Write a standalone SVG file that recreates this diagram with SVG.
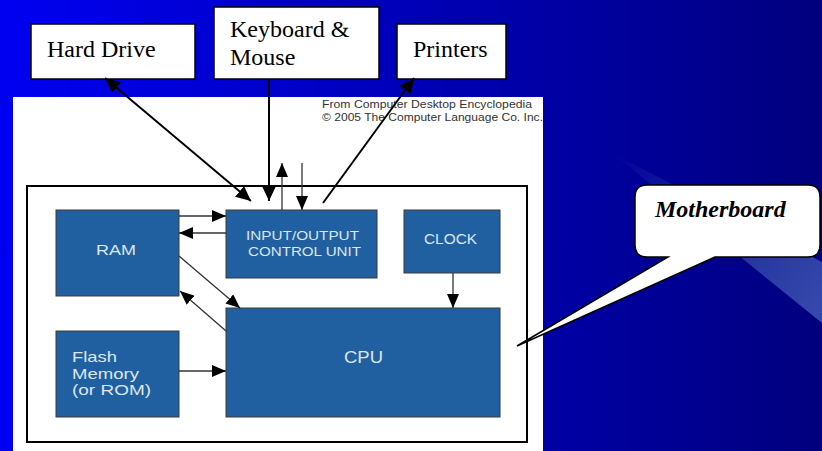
<svg xmlns="http://www.w3.org/2000/svg" width="822" height="451" viewBox="0 0 822 451">
<defs>
<linearGradient id="bg" x1="0" y1="0" x2="1" y2="0">
<stop offset="0" stop-color="#0000F2"/>
<stop offset="0.5" stop-color="#0000B8"/>
<stop offset="1" stop-color="#00007E"/>
</linearGradient>
<linearGradient id="streak" x1="612" y1="153" x2="822" y2="300" gradientUnits="userSpaceOnUse">
<stop offset="0" stop-color="#5070C0" stop-opacity="0"/>
<stop offset="0.5" stop-color="#5070C0" stop-opacity="0.4"/>
<stop offset="1" stop-color="#5878C8" stop-opacity="0.6"/>
</linearGradient>
<marker id="bigHead" markerUnits="userSpaceOnUse" markerWidth="16" markerHeight="14" refX="15" refY="7" orient="auto-start-reverse">
<path d="M0,0 L15,7 L0,14 Z" fill="#000"/>
</marker>
<marker id="smallHead" markerUnits="userSpaceOnUse" markerWidth="15" markerHeight="12" refX="14" refY="6" orient="auto-start-reverse">
<path d="M0,0 L14,6 L0,12 Z" fill="#000"/>
</marker>
<clipPath id="panelClip"><rect x="13" y="97" width="530" height="354"/></clipPath>
</defs>
<style>
.top{fill:#fff;stroke:#000;stroke-width:1.5}
.ttxt{font-family:"Liberation Serif","Times New Roman",serif;font-size:24px;fill:#000}
.blk{fill:#2060A0;stroke:#3a3a3a;stroke-width:1}
.btxt{font-family:"Liberation Sans",Arial,sans-serif;fill:#DCE6F2}
.big{stroke:#000;stroke-width:2;fill:none}
.sm{stroke:#333;stroke-width:1.3;fill:none}
.credit{font-family:"Liberation Sans",Arial,sans-serif;font-size:10.5px;fill:#333}
</style>
<rect x="0" y="0" width="822" height="451" fill="url(#bg)"/>
<polygon points="612,153 822,262 822,323" fill="url(#streak)"/>

<g id="panel">
<rect x="13" y="97" width="530" height="354" fill="#fff"/>
<g clip-path="url(#panelClip)">
<text class="credit" x="322" y="108" textLength="210" lengthAdjust="spacingAndGlyphs">From Computer Desktop Encyclopedia</text>
<text class="credit" x="322" y="121" textLength="221" lengthAdjust="spacingAndGlyphs">© 2005 The Computer Language Co. Inc.</text>
</g>
<rect x="27" y="186" width="500" height="256" fill="none" stroke="#000" stroke-width="2"/>
</g>

<g id="hard-drive">
<rect class="top" x="31" y="24" width="164" height="55"/>
<text class="ttxt" x="47" y="57">Hard Drive</text>
</g>
<g id="keyboard-mouse">
<rect class="top" x="214" y="7" width="165" height="72"/>
<text class="ttxt" x="230" y="37">Keyboard &amp;</text>
<text class="ttxt" x="230" y="65">Mouse</text>
</g>
<g id="printers">
<rect class="top" x="397" y="24" width="109" height="55"/>
<text class="ttxt" x="413" y="57">Printers</text>
</g>

<g id="ram">
<rect class="blk" x="56" y="210" width="123" height="86"/>
<text class="btxt" x="96" y="255" font-size="15" textLength="40" lengthAdjust="spacingAndGlyphs">RAM</text>
</g>
<g id="io">
<rect class="blk" x="226" y="210" width="151" height="68"/>
<text class="btxt" x="246" y="240" font-size="12.5" textLength="113" lengthAdjust="spacingAndGlyphs">INPUT/OUTPUT</text>
<text class="btxt" x="248" y="256" font-size="12.5" textLength="113" lengthAdjust="spacingAndGlyphs">CONTROL UNIT</text>
</g>
<g id="clock">
<rect class="blk" x="404" y="210" width="96" height="63"/>
<text class="btxt" x="424" y="244" font-size="14" textLength="53" lengthAdjust="spacingAndGlyphs">CLOCK</text>
</g>
<g id="flash">
<rect class="blk" x="56" y="331" width="123" height="86"/>
<text class="btxt" x="72" y="362" font-size="15" textLength="45" lengthAdjust="spacingAndGlyphs">Flash</text>
<text class="btxt" x="72" y="379" font-size="15" textLength="67" lengthAdjust="spacingAndGlyphs">Memory</text>
<text class="btxt" x="72" y="395" font-size="15" textLength="79" lengthAdjust="spacingAndGlyphs">(or ROM)</text>
</g>
<g id="cpu">
<rect class="blk" x="226" y="308" width="274" height="109"/>
<text class="btxt" x="344" y="363" font-size="16" textLength="39" lengthAdjust="spacingAndGlyphs">CPU</text>
</g>

<g id="callout">
<path d="M647,185 H808 Q820,185 820,197 V245 Q820,257 808,257 H715 L517,346 L668,257 H647 Q635,257 635,245 V197 Q635,185 647,185 Z" fill="#fff" stroke="#000" stroke-width="1.5"/>
<text x="655" y="217" font-family="'Liberation Serif','Times New Roman',serif" font-size="24" font-weight="bold" font-style="italic" fill="#000">Motherboard</text>
</g>

<g id="connectors">
<line class="big" x1="105" y1="78" x2="251" y2="201" marker-start="url(#bigHead)" marker-end="url(#bigHead)"/>
<line class="big" x1="269" y1="79" x2="269" y2="201" marker-end="url(#bigHead)"/>
<line class="big" x1="323" y1="203" x2="414" y2="78" marker-end="url(#bigHead)"/>
<line class="sm" x1="282" y1="210" x2="282" y2="163" marker-end="url(#smallHead)"/>
<line class="sm" x1="302" y1="163" x2="302" y2="210" marker-end="url(#smallHead)"/>
<line class="sm" x1="179" y1="216" x2="226" y2="216" marker-end="url(#smallHead)"/>
<line class="sm" x1="226" y1="233" x2="179" y2="233" marker-end="url(#smallHead)"/>
<line class="sm" x1="179" y1="256" x2="240" y2="308" marker-end="url(#smallHead)"/>
<line class="sm" x1="226" y1="331" x2="180" y2="291" marker-end="url(#smallHead)"/>
<line class="sm" x1="179" y1="371" x2="226" y2="371" marker-end="url(#smallHead)"/>
<line class="sm" x1="453" y1="273" x2="453" y2="308" marker-end="url(#smallHead)"/>
</g>
</svg>
